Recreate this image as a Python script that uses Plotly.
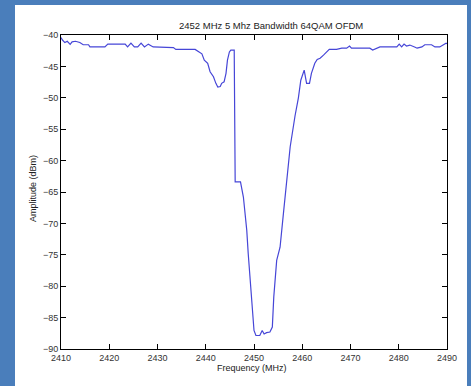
import plotly.graph_objects as go

freq = [2410.0, 2410.3, 2410.8, 2411.3, 2411.9, 2412.3, 2413.0, 2413.9, 2414.6, 2415.7,
        2416.0, 2419.1, 2419.7, 2423.3, 2423.8, 2424.5, 2425.2, 2425.9, 2426.6, 2427.3,
        2428.1, 2429.1, 2433.3, 2433.8, 2437.8, 2438.5, 2439.2, 2439.7, 2440.4, 2440.9,
        2441.6, 2442.1, 2442.5, 2443.0, 2443.3, 2443.8, 2444.2, 2444.5, 2444.9, 2445.2,
        2445.9, 2446.1, 2447.2, 2447.8, 2448.5, 2448.8, 2449.2, 2449.5, 2450.0, 2450.4,
        2451.2, 2451.7, 2452.1, 2452.6, 2453.3, 2453.8, 2454.1, 2454.7, 2455.4, 2456.1,
        2456.8, 2457.5, 2458.5, 2459.2, 2459.7, 2460.4, 2460.9, 2461.5, 2461.9, 2462.6,
        2463.1, 2463.7, 2464.4, 2465.1, 2465.6, 2467.1, 2468.2, 2469.2, 2469.8, 2470.2,
        2474.0, 2474.6, 2475.4, 2476.1, 2479.6, 2480.1, 2480.6, 2481.1, 2481.6, 2482.3,
        2483.4, 2483.8, 2484.8, 2485.4, 2486.8, 2487.5, 2488.5, 2489.2, 2489.8, 2490.0]
amp = [-40.4, -40.8, -41.2, -41.0, -41.5, -41.1, -41.0, -41.2, -41.55, -41.55,
       -41.9, -41.9, -41.45, -41.45, -41.9, -41.3, -41.9, -41.9, -41.3, -41.9,
       -41.45, -41.9, -42.0, -42.3, -42.3, -42.6, -43.0, -44.0, -44.5, -45.85,
       -46.65, -47.7, -48.3, -48.2, -47.7, -47.45, -46.1, -44.0, -42.7, -42.4,
       -42.4, -63.4, -63.4, -65.8, -71.1, -74.8, -79.1, -83.3, -87.05, -87.85,
       -87.85, -87.05, -87.6, -87.4, -87.3, -86.5, -81.7, -75.9, -73.8, -68.4,
       -62.6, -57.8, -52.9, -50.0, -47.2, -45.6, -47.7, -47.7, -46.1, -44.5,
       -43.9, -43.7, -43.2, -42.7, -42.3, -42.3, -42.1, -42.1, -41.75, -42.1,
       -42.1, -42.4, -42.1, -41.9, -41.9, -41.45, -41.9, -41.45, -41.75, -41.6,
       -41.95, -42.1, -41.9, -41.55, -41.55, -41.9, -41.9, -41.6, -41.3, -41.4]

title_text = "2452 MHz 5 Mhz Bandwidth 64QAM OFDM"
x_label = "Frequency (MHz)"
y_label = "Amplitude (dBm)"

W, H = 471, 386
ml, mr, mt, mb = 61, 24, 35, 37
pw, ph = W - ml - mr, H - mt - mb

def px_x(p):
    return (p - ml) / pw

def px_y(p):
    return (H - mb - p) / ph

fig = go.Figure()
fig.add_trace(go.Scatter(x=freq, y=amp, mode="lines",
                         line=dict(color="rgb(70,70,215)", width=1.2),
                         hoverinfo="skip", showlegend=False))

fam = "Liberation Sans, Arial, sans-serif"
font = dict(family=fam, size=9, color="#333333")
axis_common = dict(showgrid=False, zeroline=False, showline=True, linecolor="black",
                   linewidth=1, mirror="ticks", ticks="inside", ticklen=5,
                   tickcolor="black", tickfont=font)

lab_font = dict(family=fam, size=9, color="#222222")

fig.update_layout(
    width=W, height=H,
    margin=dict(l=ml, r=mr, t=mt, b=mb),
    paper_bgcolor="#4a7ebb",
    plot_bgcolor="white",
    font=font,
    xaxis=dict(range=[2410, 2490], dtick=10, tick0=2410, **axis_common),
    yaxis=dict(range=[-90, -40], dtick=5, tick0=-90, **axis_common),
    shapes=[dict(type="rect", xref="paper", yref="paper", layer="below",
                 x0=px_x(15), x1=px_x(467), y0=px_y(390), y1=px_y(5),
                 fillcolor="white", line=dict(width=0))],
    annotations=[
        dict(text=title_text, xref="paper", yref="paper", x=px_x(271), y=px_y(25),
             xanchor="center", yanchor="middle", showarrow=False,
             font=dict(family=fam, size=9.5, color="#222222")),
        dict(text=x_label, xref="paper", yref="paper", x=px_x(252), y=px_y(367.5),
             xanchor="center", yanchor="middle", showarrow=False, font=lab_font),
        dict(text=y_label, xref="paper", yref="paper", x=px_x(33), y=px_y(189),
             xanchor="center", yanchor="middle", showarrow=False, textangle=-90,
             font=lab_font),
    ],
)

fig.write_html("out.html", config={"displayModeBar": False},
               post_script="document.body.style.margin='0';document.body.style.overflow='hidden';")
